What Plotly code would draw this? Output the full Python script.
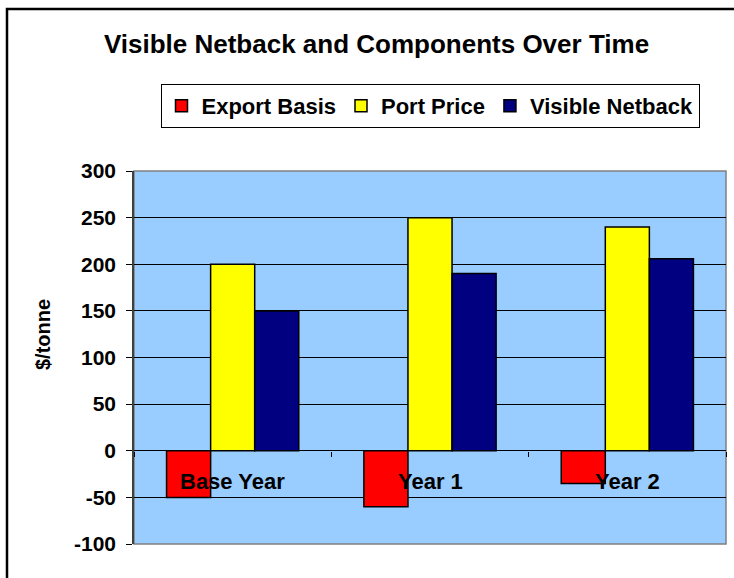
import plotly.graph_objects as go

categories = ["Base Year", "Year 1", "Year 2"]
export_basis = [-50, -60, -35]
port_price = [200, 250, 240]
visible_netback = [150, 190, 206]
series_names = ["Export Basis", "Port Price", "Visible Netback"]
series_colors = ["#FF0000", "#FFFF00", "#000080"]
y_ticks = [-100, -50, 0, 50, 100, 150, 200, 250, 300]

FONT = "Arial, Liberation Sans, sans-serif"

fig = go.Figure()
for name, vals, col in zip(series_names, [export_basis, port_price, visible_netback], series_colors):
    fig.add_trace(go.Bar(
        x=categories, y=vals, name=name,
        marker=dict(color=col, line=dict(color="black", width=1.5)),
    ))

W, H = 734, 578
L, R, T, B = 134, 8, 171, 34
pw, ph = W - L - R, H - T - B

def px(x):
    return (x - L) / pw

def py(y):
    return (H - B - y) / ph

annotations = [
    dict(x=c, y=0, xref="x", yref="y", text=c, showarrow=False,
         yanchor="middle", yshift=-31,
         font=dict(family=FONT, size=22, color="black", weight="bold"))
    for c in categories
]
annotations.append(dict(
    x=px(43), y=py(335), xref="paper", yref="paper", text="$/tonne",
    textangle=-90, showarrow=False, xanchor="center", yanchor="middle",
    font=dict(family=FONT, size=20, color="black", weight="bold")))

fig.update_layout(
    width=W, height=H,
    margin=dict(l=L, r=R, t=T, b=B),
    paper_bgcolor="white",
    plot_bgcolor="#99CCFF",
    barmode="group",
    bargap=0.33,
    bargroupgap=0,
    title=dict(text="Visible Netback and Components Over Time",
               x=376.5 / W, y=1 - 44 / H, xref="container", yref="container",
               xanchor="center", yanchor="middle",
               font=dict(family=FONT, size=26, color="black", weight="bold")),
    legend=dict(orientation="h", x=0.5, y=py(106), xanchor="center", yanchor="middle",
                bgcolor="white", bordercolor="black", borderwidth=1,
                font=dict(family=FONT, size=22, color="black", weight="bold"),
                itemwidth=30, tracegroupgap=0),
    xaxis=dict(type="category", range=[-0.5, 2.5], showgrid=False, zeroline=False,
               showticklabels=False, ticks="outside", tickson="boundaries",
               ticklen=5, tickcolor="black", anchor="free", position=0.25,
               showline=False, fixedrange=True),
    yaxis=dict(range=[-100, 300], tickvals=y_ticks, ticktext=[str(v) for v in y_ticks],
               showgrid=True, gridcolor="black",
               gridwidth=1, zeroline=True, zerolinecolor="black", zerolinewidth=1,
               showline=True, linecolor="#404040", linewidth=1.5,
               ticks="outside", ticklen=6, tickcolor="black", ticklabelstandoff=6,
               tickfont=dict(family=FONT, size=21, color="black", weight="bold")),
    annotations=annotations,
    shapes=[
        dict(type="rect", xref="paper", yref="paper", x0=0, x1=1, y0=0, y1=1,
             line=dict(color="#808080", width=1.5), layer="below"),
        dict(type="rect", xref="paper", yref="paper", x0=px(7), x1=px(745),
             y0=py(600), y1=py(9), line=dict(color="black", width=2.5)),
    ],
)

fig.write_html("out.html", config={"displayModeBar": False},
               post_script="document.body.style.margin='0';document.body.style.overflow='hidden';")
